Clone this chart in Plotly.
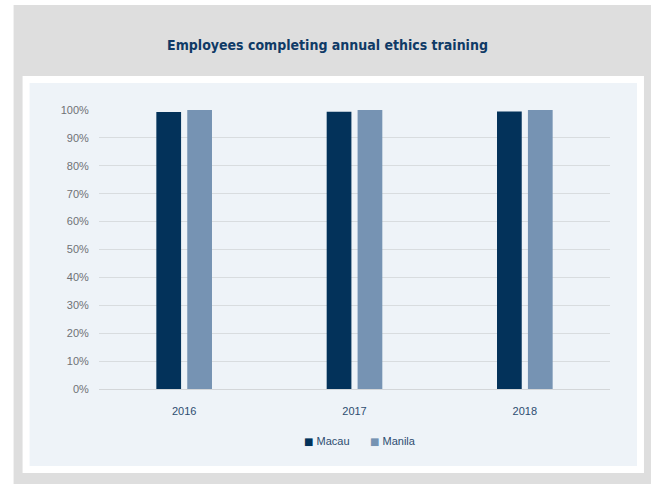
import plotly.graph_objects as go

years = ["2016", "2017", "2018"]
macau = [99.3, 99.4, 99.5]
manila = [100, 100, 100]
series_names = ["Macau", "Manila"]
series_colors = ["#03325a", "#7693b3"]
ytick_vals = [0, 10, 20, 30, 40, 50, 60, 70, 80, 90, 100]
ytick_text = [f"{v}%" for v in ytick_vals]

W_PX, H_PX = 654, 484
L, R_EDGE, TOP, BOT = 98.5, 610, 110, 389
PW, PH = R_EDGE - L, BOT - TOP

def px(x):
    return (x - L) / PW

def py(y):
    return (BOT - y) / PH

fig = go.Figure()
for name, vals, col in zip(series_names, [macau, manila], series_colors):
    fig.add_trace(go.Bar(name=name, x=years, y=vals, marker_color=col,
                         marker_line_width=0, showlegend=False))

shapes = [
    dict(type="rect", xref="paper", yref="paper", x0=px(13), x1=px(651), y0=py(484), y1=py(5),
         fillcolor="#dedede", line_width=0, layer="below"),
    dict(type="rect", xref="paper", yref="paper", x0=px(22), x1=px(644), y0=py(473), y1=py(76),
         fillcolor="#ffffff", line_width=0, layer="below"),
    dict(type="rect", xref="paper", yref="paper", x0=px(29), x1=px(637), y0=py(466), y1=py(83),
         fillcolor="#eef3f8", line_width=0, layer="below"),
]

legend_x = [302, 368]
annotations = []
for name, col, lx in zip(series_names, series_colors, legend_x):
    annotations.append(dict(
        xref="paper", yref="paper", x=px(lx), y=py(440.5), xanchor="left", yanchor="middle",
        showarrow=False,
        text=(f'<span style="font-family:DejaVu Sans;font-size:10px;color:{col}">■</span>'
              f' {name}'),
        font=dict(family="Liberation Sans, Arial, sans-serif", size=11, color="#2d4d70"),
    ))

fig.update_layout(
    width=W_PX, height=H_PX,
    margin=dict(l=L, r=W_PX - R_EDGE, t=TOP, b=H_PX - BOT, pad=0),
    paper_bgcolor="#ffffff",
    plot_bgcolor="rgba(0,0,0,0)",
    shapes=shapes,
    annotations=annotations,
    barmode="group",
    bargap=0.637,
    bargroupgap=0.2,
    title=dict(text="<b>Employees completing annual ethics training</b>",
               x=327.5 / W_PX, xanchor="center",
               y=1 - 45 / H_PX, yanchor="middle", xref="container", yref="container",
               font=dict(family="DejaVu Sans Condensed, sans-serif",
                         size=14, color="#0f3a66")),
    showlegend=False,
    xaxis=dict(showgrid=False, showline=False, zeroline=False,
               ticks="outside", ticklen=12, tickcolor="rgba(0,0,0,0)",
               tickfont=dict(family="Liberation Sans, Arial, sans-serif", size=11, color="#2d4d70")),
    yaxis=dict(range=[0, 100], tickvals=ytick_vals, ticktext=ytick_text,
               showgrid=True, gridcolor="#d8dcdf", gridwidth=1,
               zeroline=True, zerolinecolor="#d3d6d9", zerolinewidth=1,
               showline=False, ticks="outside", ticklen=7, tickcolor="rgba(0,0,0,0)",
               tickfont=dict(family="Liberation Sans, Arial, sans-serif", size=11, color="#6e7175")),
)

fig.write_html("out.html")
